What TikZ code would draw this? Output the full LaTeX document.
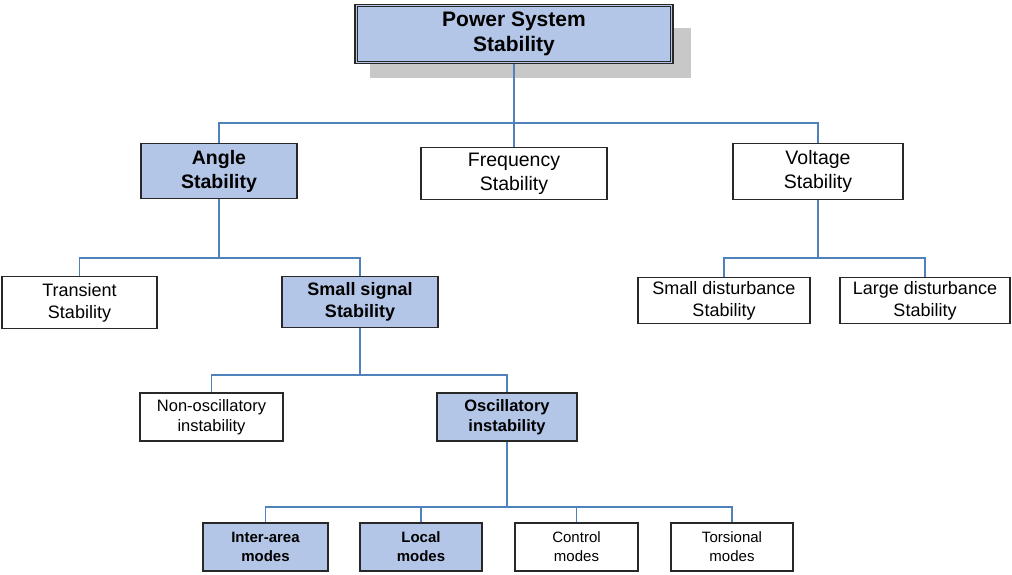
\documentclass[tikz,border=0pt]{standalone}
\usepackage{fontspec}
\setmainfont{Liberation Sans}
\definecolor{boxfill}{RGB}{180,198,231}
\definecolor{linkblue}{RGB}{79,129,189}
\definecolor{boxline}{RGB}{40,40,40}
\definecolor{shadowgray}{RGB}{200,200,200}
\begin{document}
\begin{tikzpicture}[x=1pt,y=-1pt,
  box/.style={draw=boxline,line width=1.4pt,fill=white,align=center,inner sep=0pt},
  hl/.style={box,fill=boxfill,font=\bfseries\fontsize{19.5}{24}\selectfont},
  lvtwo/.style={font=\fontsize{19.5}{24}\selectfont},
  lvthree/.style={font=\fontsize{18}{22}\selectfont},
  lvfour/.style={font=\fontsize{16.5}{20}\selectfont},
  lvfive/.style={font=\fontsize{15}{19}\selectfont},
  link/.style={draw=linkblue,line width=1.3pt}]
\useasboundingbox (0,0) rectangle (1012,575);
% shadow of the top box
\fill[shadowgray] (370,28) rectangle (691,78);
% top box
\node[box,fill=boxfill,minimum width=318pt,minimum height=59pt,
      font=\bfseries\fontsize{21}{25}\selectfont] (top) at (514,34) {Power System\\Stability};
\draw[boxline,line width=1.2pt] ([xshift=3pt,yshift=-3pt]top.north west) rectangle ([xshift=-3pt,yshift=3pt]top.south east);
% level 2
\node[hl,minimum width=156pt,minimum height=55pt] (angle) at (219,171) {Angle\\Stability};
\node[box,lvtwo,minimum width=186pt,minimum height=52pt] (freq) at (514,173.5) {Frequency\\Stability};
\node[box,lvtwo,minimum width=170pt,minimum height=56pt] (volt) at (818,171.5) {Voltage\\Stability};
% level 3
\node[box,lvthree,minimum width=155pt,minimum height=52pt] (trans) at (79.5,302.5) {Transient\\Stability};
\node[hl,font=\bfseries\fontsize{18}{22}\selectfont,minimum width=156pt,minimum height=51pt] (small) at (360,302) {Small signal\\Stability};
\node[box,lvthree,minimum width=172pt,minimum height=46pt] (sdist) at (724,300.5) {Small disturbance\\Stability};
\node[box,lvthree,minimum width=170pt,minimum height=46pt] (ldist) at (925,300.5) {Large disturbance\\Stability};
% level 4
\node[box,lvfour,minimum width=143pt,minimum height=48pt] (nonosc) at (211.5,417) {Non-oscillatory\\instability};
\node[hl,font=\bfseries\fontsize{16.5}{20}\selectfont,minimum width=140pt,minimum height=48pt] (osc) at (507,417) {Oscillatory\\instability};
% level 5
\node[hl,font=\bfseries\fontsize{15}{19}\selectfont,minimum width=125pt,minimum height=48pt] (inter) at (265.5,547) {Inter-area\\modes};
\node[hl,font=\bfseries\fontsize{15}{19}\selectfont,minimum width=122pt,minimum height=48pt] (local) at (421,547) {Local\\modes};
\node[box,lvfive,minimum width=123pt,minimum height=48pt] (control) at (576.5,547) {Control\\modes};
\node[box,lvfive,minimum width=122pt,minimum height=48pt] (tors) at (732,547) {Torsional\\modes};
% bus points
\coordinate (b1) at (514,123);
\coordinate (b2) at (219,258);
\coordinate (b3) at (818,258);
\coordinate (b4) at (360,375);
\coordinate (b5) at (507,507);
% connectors
\draw[link] (top.south) -- (b1);
\draw[link] (angle.north) |- (b1) -| (volt.north);
\draw[link] (b1) -- (freq.north);
\draw[link] (angle.south) -- (b2);
\draw[link] (trans.north) |- (b2) -| (small.north);
\draw[link] (volt.south) -- (b3);
\draw[link] (sdist.north) |- (b3) -| (ldist.north);
\draw[link] (small.south) -- (b4);
\draw[link] (nonosc.north) |- (b4) -| (osc.north);
\draw[link] (osc.south) -- (b5);
\draw[link] (inter.north) |- (b5) -| (tors.north);
\draw[link] (local.north) -- (local.north |- b5);
\draw[link] (control.north) -- (control.north |- b5);
\end{tikzpicture}
\end{document}
